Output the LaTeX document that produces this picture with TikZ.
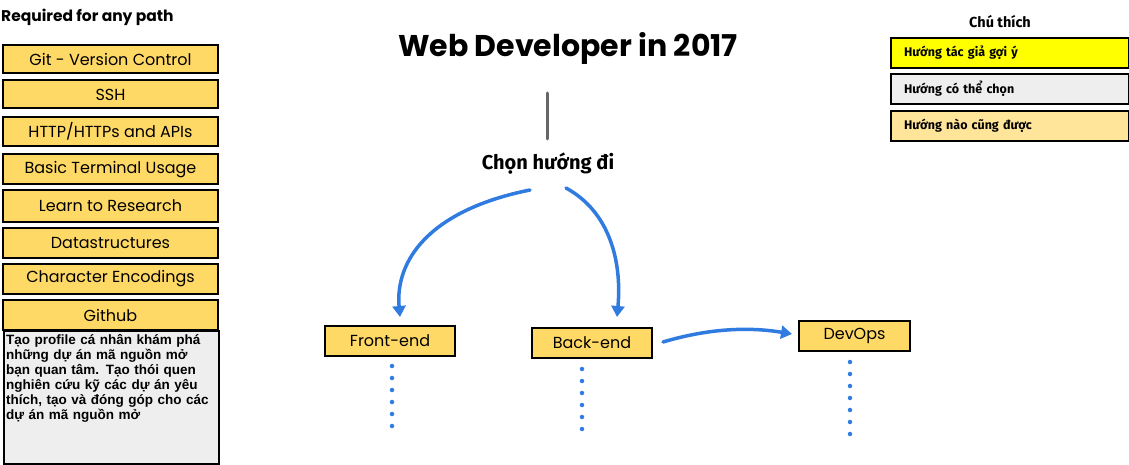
\documentclass[tikz,border=0pt]{standalone}
\usepackage{fontspec}
\setmainfont{Poppins}
\newfontfamily\vnfont{Fira Sans}
\newfontfamily\arialbold{Liberation Sans Bold}
\usetikzlibrary{arrows.meta,positioning}
\definecolor{boxyellow}{HTML}{FFD966}
\definecolor{boxgray}{HTML}{EEEEEE}
\definecolor{legyellow}{HTML}{FFFF00}
\definecolor{legorange}{HTML}{FFE599}
\definecolor{arrowblue}{HTML}{2F7BE0}
\definecolor{linegray}{HTML}{666666}
\tikzset{
  topic/.style={draw=black, line width=2pt, fill=boxyellow, inner sep=0pt,
    font=\fontsize{16}{18}\selectfont},
  legend/.style={draw=black, line width=2pt, inner sep=0pt, minimum width=238pt,
    minimum height=30pt, text width=212pt, align=left,
    font=\vnfont\bfseries\fontsize{12.5}{14}\selectfont},
  flow/.style={draw=arrowblue, line width=3.5pt, line cap=round,
    -{Triangle[width=13pt,length=11pt]}},
  dotline/.style={draw=arrowblue, line width=4.5pt, line cap=round,
    dash pattern=on 0pt off 12pt},
}
\begin{document}
\begin{tikzpicture}[x=1pt,y=-1pt]
\useasboundingbox (0,0) rectangle (1129,465);
% left column
\node[anchor=west, inner sep=0pt, font=\fontseries{sb}\selectfont\fontsize{15.5}{17}\selectfont] (req) at (1,17) {Required for any path};
\node[topic, minimum width=215pt, minimum height=28pt] (git) at (110.5,59.5) {Git - Version Control};
\node[topic, minimum width=215pt, minimum height=28pt] (ssh) at (110.5,94.5) {SSH};
\node[topic, minimum width=215pt, minimum height=29pt] (http) at (110.5,131.5) {HTTP/HTTPs and APIs};
\node[topic, minimum width=215pt, minimum height=30pt] (term) at (110.5,169.5) {Basic Terminal Usage};
\node[topic, minimum width=215pt, minimum height=31pt] (res) at (110.5,206) {Learn to Research};
\node[topic, minimum width=215pt, minimum height=30pt] (ds) at (110.5,242.5) {Datastructures};
\node[topic, minimum width=215pt, minimum height=30pt] (enc) at (110.5,279) {Character Encodings};
\node[topic, minimum width=215pt, minimum height=30pt] (gh) at (110.5,315) {Github};
\node[draw=black, line width=2pt, fill=boxgray, anchor=north west, minimum width=215pt,
  minimum height=133pt, inner sep=0pt] (ghbox) at (3,330) {};
\node[anchor=north west, text width=214pt, align=left, inner sep=0pt,
  font=\arialbold\fontsize{13.5}{15}\selectfont] (ghtext) at (6,334)
  {Tạo profile cá nhân khám phá\\ những dự án mã nguồn mở\\ bạn quan tâm. Tạo thói quen\\ nghiên cứu kỹ các dự án yêu\\ thích, tạo và đóng góp cho các\\ dự án mã nguồn mở};
% title
\node[font=\bfseries\fontsize{30}{34}\selectfont] (title) at (568,48) {Web Developer in 2017};
\coordinate (vtop) at (547,93);
\coordinate (vbot) at (547,139);
\draw[linegray, line width=3pt, line cap=round] (vtop) -- (vbot);
\node[font=\vnfont\bfseries\fontsize{20}{23}\selectfont] (choose) at (548,164) {Chọn hướng đi};
% branches
\node[topic, minimum width=130pt, minimum height=30pt] (fe) at (390,341) {Front-end};
\node[topic, minimum width=120pt, minimum height=30pt] (be) at (592,343) {Back-end};
\node[topic, minimum width=111pt, minimum height=30pt] (dev) at (854.5,336) {DevOps};
\coordinate (s1) at (530,190);
\coordinate (s2) at (566,188);
\coordinate (e1) at (400,317);
\coordinate (e2) at (617,317);
\coordinate (s3) at (663,342);
\coordinate (e3) at (792,334);
\draw[flow] (s1) .. controls (430,210) and (395,260) .. (e1);
\draw[flow] (s2) .. controls (610,212) and (622,262) .. (e2);
\draw[flow] (s3) .. controls (710,328) and (750,327) .. (e3);
% dotted continuations
\coordinate (d1a) at (392,366);
\coordinate (d1b) at (392,427);
\coordinate (d2a) at (582,369);
\coordinate (d2b) at (582,430);
\coordinate (d3a) at (850,362);
\coordinate (d3b) at (850,435);
\draw[dotline] (d1a) -- (d1b);
\draw[dotline] (d2a) -- (d2b);
\draw[dotline] (d3a) -- (d3b);
% legend
\node[font=\vnfont\bfseries\fontsize{14.5}{16}\selectfont] (legtitle) at (1000,22) {Chú thích};
\node[legend, fill=legyellow, anchor=north west] (l1) at (890,37) {Hướng tác giả gợi ý};
\node[legend, fill=boxgray, anchor=north west] (l2) at (890,73) {Hướng có thể chọn};
\node[legend, fill=legorange, anchor=north west] (l3) at (890,110) {Hướng nào cũng được};
\end{tikzpicture}
\end{document}
